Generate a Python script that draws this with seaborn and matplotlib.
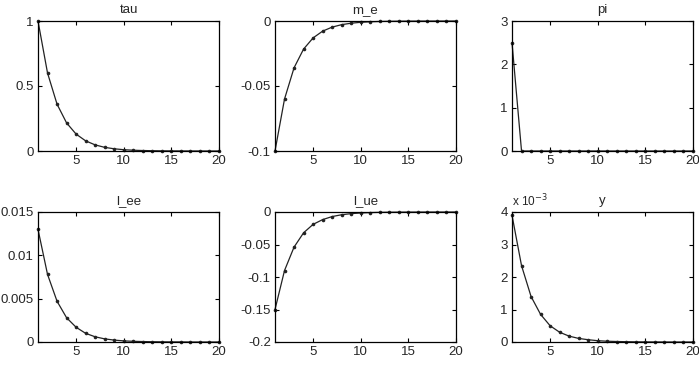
import numpy as np
import pandas as pd
import matplotlib
matplotlib.use("Agg")
import matplotlib.pyplot as plt
import seaborn as sns

periods = list(range(1, 21))
tau = [1.0, 0.60, 0.36, 0.216, 0.13, 0.078, 0.047, 0.028, 0.017, 0.010,
       0.006, 0.0036, 0.0022, 0.0013, 0.0008, 0.0005, 0.0003, 0.0002, 0.0001, 0.0001]
m_e = [-0.1, -0.06, -0.036, -0.0216, -0.013, -0.0078, -0.0047, -0.0028, -0.0017, -0.0010,
       -0.0006, -0.00036, -0.00022, -0.00013, -0.00008, -0.00005, -0.00003, -0.00002, -0.00001, -0.00001]
pi = [2.5, 0, 0, 0, 0, 0, 0, 0, 0, 0, 0, 0, 0, 0, 0, 0, 0, 0, 0, 0]
l_ee = [0.013, 0.0078, 0.0047, 0.0028, 0.0017, 0.0010, 0.0006, 0.00036, 0.00022, 0.00013,
        0.00008, 0.00005, 0.00003, 0.00002, 0.00001, 0.00001, 0, 0, 0, 0]
l_ue = [-0.15, -0.09, -0.054, -0.032, -0.019, -0.0117, -0.007, -0.0042, -0.0025, -0.0015,
        -0.0009, -0.00054, -0.00032, -0.00019, -0.00012, -0.00007, -0.00004, -0.00003, -0.00002, -0.00001]
y = [0.0039, 0.00235, 0.0014, 0.00085, 0.0005, 0.0003, 0.00018, 0.00011, 0.00007, 0.00004,
     0.000024, 0.000015, 0.000009, 0.000005, 0.000003, 0.000002, 0.000001, 0, 0, 0]

titles = ["tau", "m_e", "pi", "l_ee", "l_ue", "y"]
series = [tau, m_e, pi, l_ee, l_ue, y]
ylims = [(0, 1), (-0.1, 0), (0, 3), (0, 0.015), (-0.2, 0), (0, 0.004)]
yticks = [[0, 0.5, 1], [-0.1, -0.05, 0], [0, 1, 2, 3], [0, 0.005, 0.01, 0.015],
          [-0.2, -0.15, -0.1, -0.05, 0], [0, 0.001, 0.002, 0.003, 0.004]]
ylabels = [["0", "0.5", "1"], ["-0.1", "-0.05", "0"], ["0", "1", "2", "3"],
           ["0", "0.005", "0.01", "0.015"], ["-0.2", "-0.15", "-0.1", "-0.05", "0"],
           ["0", "1", "2", "3", "4"]]
xticks = [5, 10, 15, 20]

sns.set_style("ticks")
plt.rcParams["font.family"] = ["Liberation Sans", "DejaVu Sans"]
plt.rcParams["xtick.direction"] = "in"
plt.rcParams["ytick.direction"] = "in"

fig = plt.figure(figsize=(6.99, 3.75), dpi=100)
W, H = 699, 375
lefts = [38, 275, 512]
bottoms_top = [21, 212]
aw, ah = 181, 130
fs = 9.5

for i, (t, s) in enumerate(zip(titles, series)):
    r, c = divmod(i, 3)
    l = lefts[c]
    tp = bottoms_top[r]
    ax = fig.add_axes([l / W, 1 - (tp + ah) / H, aw / W, ah / H])
    df = pd.DataFrame({"period": periods, "value": s})
    sns.lineplot(data=df, x="period", y="value", ax=ax, color="#222222",
                 marker="o", markersize=2.6, linewidth=0.9, markeredgewidth=0,
                 clip_on=False)
    ax.set_xlim(1, 20)
    ax.set_ylim(*ylims[i])
    ax.set_xticks(xticks)
    ax.set_xticklabels([str(v) for v in xticks])
    ax.set_yticks(yticks[i])
    ax.set_yticklabels(ylabels[i])
    ax.set_xlabel("")
    ax.set_ylabel("")
    ax.set_title(t, fontsize=fs, pad=6)
    ax.tick_params(axis="both", labelsize=fs, length=3, width=0.8,
                   top=True, right=True, pad=3, color="black")
    for sp in ax.spines.values():
        sp.set_visible(True)
        sp.set_linewidth(0.9)
        sp.set_color("black")
    if t == "y":
        ax.text(0.0, 1.02, r"x 10$^{-3}$", transform=ax.transAxes,
                fontsize=8.5, ha="left", va="bottom")

fig.savefig("out.png", dpi=100)
